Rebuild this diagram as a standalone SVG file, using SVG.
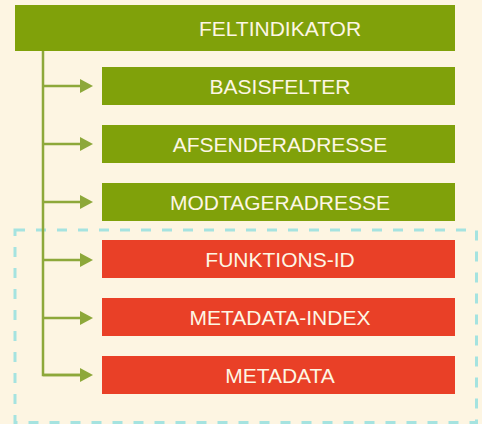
<svg xmlns="http://www.w3.org/2000/svg" width="482" height="424" viewBox="0 0 482 424">
  <style>
    .green { fill: #80A10A; }
    .red { fill: #E94027; }
    .lbl { font-family: "Liberation Sans", Arial, sans-serif; font-size: 21px; fill: #FDF6E4; text-anchor: middle; }
    .conn { stroke: #8DA83A; stroke-width: 2.5; fill: none; }
    .head { fill: #8DA83A; }
  </style>
  <defs>
    <marker id="arrow" markerWidth="13" markerHeight="14" refX="0" refY="7" orient="auto" markerUnits="userSpaceOnUse">
      <polygon points="0,0 13,7 0,14" class="head"/>
    </marker>
  </defs>
  <rect x="0" y="0" width="482" height="424" fill="#FDF5E2"/>
  <rect id="group-box" x="15" y="230" width="461.5" height="192.5" fill="none" stroke="#A5E3E0" stroke-width="3" stroke-dasharray="10 11"/>
  <g id="connectors">
    <path class="conn" d="M43,51 V375 H80"/>
    <path class="conn" d="M43,86 H80" marker-end="url(#arrow)"/>
    <path class="conn" d="M43,144 H80" marker-end="url(#arrow)"/>
    <path class="conn" d="M43,202 H80" marker-end="url(#arrow)"/>
    <path class="conn" d="M43,260 H80" marker-end="url(#arrow)"/>
    <path class="conn" d="M43,318 H80" marker-end="url(#arrow)"/>
    <path class="conn" d="M43,375 H80" marker-end="url(#arrow)"/>
  </g>
  <g id="feltindikator">
    <rect class="green" x="15" y="5" width="440" height="46"/>
    <text class="lbl" x="280" y="36">FELTINDIKATOR</text>
  </g>
  <g id="basisfelter">
    <rect class="green" x="102" y="67" width="353" height="38"/>
    <text class="lbl" x="280" y="94">BASISFELTER</text>
  </g>
  <g id="afsenderadresse">
    <rect class="green" x="102" y="125" width="353" height="38"/>
    <text class="lbl" x="280" y="152">AFSENDERADRESSE</text>
  </g>
  <g id="modtageradresse">
    <rect class="green" x="102" y="183" width="353" height="38"/>
    <text class="lbl" x="280" y="210">MODTAGERADRESSE</text>
  </g>
  <g id="funktions-id">
    <rect class="red" x="102" y="240" width="353" height="38"/>
    <text class="lbl" x="280" y="267">FUNKTIONS-ID</text>
  </g>
  <g id="metadata-index">
    <rect class="red" x="102" y="298" width="353" height="38"/>
    <text class="lbl" x="280" y="325">METADATA-INDEX</text>
  </g>
  <g id="metadata">
    <rect class="red" x="102" y="356" width="353" height="38"/>
    <text class="lbl" x="280" y="383">METADATA</text>
  </g>
</svg>
